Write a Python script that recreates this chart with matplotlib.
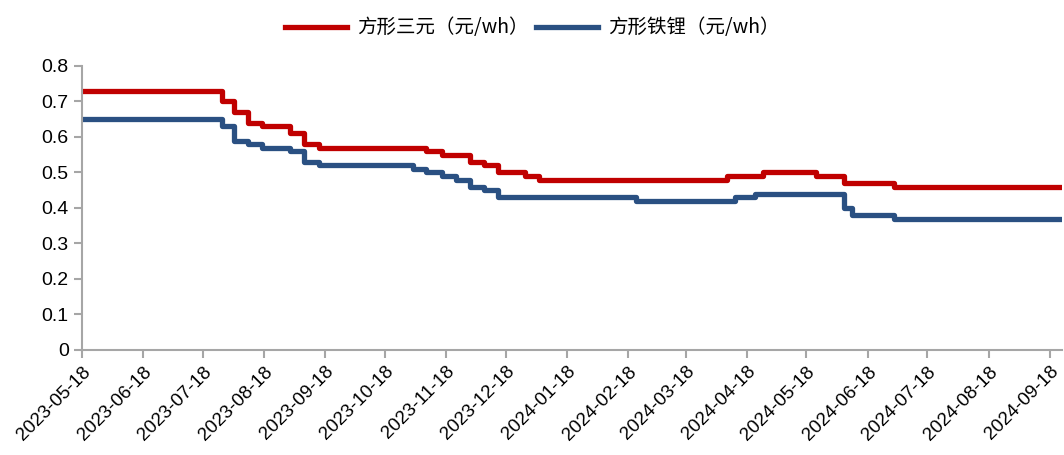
import pandas as pd
import matplotlib
matplotlib.use('Agg')
import matplotlib.pyplot as plt
import matplotlib.dates as mdates

plt.rcParams['font.family'] = ['Liberation Sans', 'Noto Sans CJK SC', 'DejaVu Sans']

# step change dates and prices (yuan/wh)
ncm_dates = ['2023-05-18', '2023-07-28', '2023-08-03', '2023-08-10', '2023-08-17',
             '2023-08-31', '2023-09-07', '2023-09-15', '2023-11-08', '2023-11-16',
             '2023-11-30', '2023-12-07', '2023-12-14', '2023-12-28', '2024-01-04',
             '2024-04-08', '2024-04-26', '2024-05-23', '2024-06-06', '2024-07-01',
             '2024-09-24']
ncm_values = [0.73, 0.70, 0.67, 0.64, 0.63, 0.61, 0.58, 0.57, 0.56, 0.55,
              0.53, 0.52, 0.50, 0.49, 0.48, 0.49, 0.50, 0.49, 0.47, 0.46, 0.46]

lfp_dates = ['2023-05-18', '2023-07-28', '2023-08-03', '2023-08-10', '2023-08-17',
             '2023-08-31', '2023-09-07', '2023-09-15', '2023-11-01', '2023-11-08',
             '2023-11-16', '2023-11-23', '2023-11-30', '2023-12-07', '2023-12-14',
             '2024-02-22', '2024-04-12', '2024-04-22', '2024-06-06', '2024-06-10',
             '2024-07-01', '2024-09-24']
lfp_values = [0.65, 0.63, 0.59, 0.58, 0.57, 0.56, 0.53, 0.52, 0.51, 0.50,
              0.49, 0.48, 0.46, 0.45, 0.43, 0.42, 0.43, 0.44, 0.40, 0.38,
              0.37, 0.37]

tick_dates = pd.date_range('2023-05-01', '2024-09-01', freq='MS') + pd.Timedelta(days=17)
labels = ['方形三元（元/wh）', '方形铁锂（元/wh）']

fig = plt.figure(figsize=(10.64, 4.55), dpi=100)
ax = fig.add_axes([0.077, 0.231, 0.921, 0.624])

ax.plot(pd.to_datetime(ncm_dates), ncm_values, drawstyle='steps-post',
        color='#C00000', lw=3.8, label=labels[0])
ax.plot(pd.to_datetime(lfp_dates), lfp_values, drawstyle='steps-post',
        color='#2A5082', lw=3.8, label=labels[1])

ax.set_ylim(0, 0.8)
ax.set_yticks([0, 0.1, 0.2, 0.3, 0.4, 0.5, 0.6, 0.7, 0.8])
ax.set_yticklabels(['0', '0.1', '0.2', '0.3', '0.4', '0.5', '0.6', '0.7', '0.8'])
ax.set_xlim(pd.Timestamp('2023-05-18'), pd.Timestamp('2024-09-24'))
ax.set_xticks(tick_dates)
ax.xaxis.set_major_formatter(mdates.DateFormatter('%Y-%m-%d'))
plt.setp(ax.get_xticklabels(), rotation=45, ha='right', rotation_mode='anchor')

for s in ['top', 'right']:
    ax.spines[s].set_visible(False)
for s in ['left', 'bottom']:
    ax.spines[s].set_color('#A6A6A6')
    ax.spines[s].set_linewidth(1.5)
ax.tick_params(axis='both', colors='#A6A6A6', labelcolor='black', width=1.5, length=6)
ax.tick_params(axis='y', labelsize=14)
ax.tick_params(axis='x', labelsize=13.5)

leg = fig.legend(loc='upper center', bbox_to_anchor=(0.5, 1.0), ncol=2, frameon=False,
                 handlelength=3.2, columnspacing=0.4, handletextpad=0.5,
                 prop={'family': ['Noto Sans CJK SC', 'DejaVu Sans'], 'size': 14})

fig.savefig('out.png', dpi=100)
